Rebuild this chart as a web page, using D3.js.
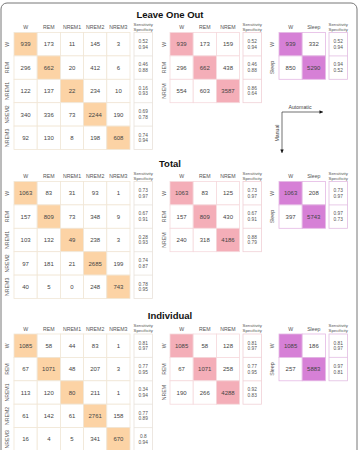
<html>
<head>
<script src="https://d3js.org/d3.v7.min.js"></script>
<style>
  body { margin: 0; background: #fff; }
  text { font-family: "Liberation Sans", Arial, sans-serif; }
</style>
</head>
<body>
<div id="chart"></div>
<script>
// class labels
const classes5 = ["W", "REM", "NREM1", "NREM2", "NREM3"];
const classes3 = ["W", "REM", "NREM"];
const classes2 = ["W", "Sleep"];
const sectionTitles = ["Leave One Out", "Total", "Individual"];

// Leave One Out
const loo5 = [[939,173,11,145,3],[296,662,20,412,6],[122,137,22,234,10],[340,336,73,2244,190],[92,130,8,198,608]];
const loo5Stats = [["0.52","0.94"],["0.46","0.88"],["0.16","0.93"],["0.69","0.78"],["0.74","0.94"]];
const loo3 = [[939,173,159],[296,662,438],[554,603,3587]];
const loo3Stats = [["0.52","0.94"],["0.46","0.88"],["0.86","0.64"]];
const loo2 = [[939,332],[850,5290]];
const loo2Stats = [["0.52","0.94"],["0.94","0.52"]];

// Total
const total5 = [[1063,83,31,93,1],[157,809,73,348,9],[103,132,49,238,3],[97,181,21,2685,199],[40,5,0,248,743]];
const total5Stats = [["0.73","0.97"],["0.67","0.91"],["0.28","0.93"],["0.74","0.87"],["0.78","0.95"]];
const total3 = [[1063,83,125],[157,809,430],[240,318,4186]];
const total3Stats = [["0.73","0.97"],["0.67","0.91"],["0.88","0.79"]];
const total2 = [[1063,208],[397,5743]];
const total2Stats = [["0.73","0.97"],["0.97","0.73"]];

// Individual
const ind5 = [[1085,58,44,83,1],[67,1071,48,207,3],[113,120,80,211,1],[61,142,61,2761,158],[16,4,5,341,670]];
const ind5Stats = [["0.81","0.97"],["0.77","0.95"],["0.34","0.94"],["0.77","0.89"],["0.8","0.94"]];
const ind3 = [[1085,58,128],[67,1071,258],[190,266,4288]];
const ind3Stats = [["0.81","0.97"],["0.77","0.95"],["0.92","0.83"]];
const ind2 = [[1085,186],[257,5883]];
const ind2Stats = [["0.81","0.97"],["0.97","0.81"]];

const sections = [
  {title: sectionTitles[0], top: 32.5, m5: loo5, s5: loo5Stats, m3: loo3, s3: loo3Stats, m2: loo2, s2: loo2Stats},
  {title: sectionTitles[1], top: 181.5, m5: total5, s5: total5Stats, m3: total3, s3: total3Stats, m2: total2, s2: total2Stats},
  {title: sectionTitles[2], top: 334, m5: ind5, s5: ind5Stats, m3: ind3, s3: ind3Stats, m2: ind2, s2: ind2Stats}
];

const W = 360, H = 450;
const cellW = 23.2, cellH = 23.4;

const svg = d3.select('#chart').append('svg')
  .attr('width', W)
  .attr('height', H);

// outer frame
svg.append('rect')
  .attr('x', 1).attr('y', 3)
  .attr('width', 356).attr('height', 470)
  .attr('rx', 6)
  .attr('fill', 'none')
  .attr('stroke', '#777')
  .attr('stroke-width', 1);

const styles = {
  five:  {x0: 14,  label: 7,   sx: 134, fill: '#fcd3a5', line: '#f1e6d6', box: '#e9e2da'},
  three: {x0: 170, label: 164, sx: 243, fill: '#f4aeb8', line: '#f5d9dd', box: '#f0d0d6'},
  two:   {x0: 279, label: 272, sx: 329, fill: '#d680d6', line: '#e4b8e4', box: '#e2bce2'}
};

function drawBlock(g, classes, matrix, stats, top, st) {
  const n = classes.length;
  const x = d3.scaleBand().domain(d3.range(n)).range([st.x0, st.x0 + n * cellW]);
  const y = d3.scaleBand().domain(d3.range(n)).range([top, top + n * cellH]);

  const cells = [];
  matrix.forEach((row, i) => row.forEach((v, j) => cells.push({i, j, v})));

  g.selectAll(null).data(cells).enter().append('rect')
    .attr('x', d => x(d.j)).attr('y', d => y(d.i))
    .attr('width', x.bandwidth()).attr('height', y.bandwidth())
    .attr('fill', d => d.i === d.j ? st.fill : '#fff')
    .attr('stroke', st.line)
    .attr('stroke-width', 0.8);

  g.selectAll(null).data(cells).enter().append('text')
    .attr('x', d => x(d.j) + x.bandwidth() / 2)
    .attr('y', d => y(d.i) + y.bandwidth() / 2)
    .attr('dy', '0.35em')
    .attr('text-anchor', 'middle')
    .attr('font-size', 6)
    .attr('fill', '#444')
    .text(d => d.v);

  // column headers
  g.selectAll(null).data(classes).enter().append('text')
    .attr('x', (d, j) => x(j) + x.bandwidth() / 2)
    .attr('y', top - 5)
    .attr('dy', '0.35em')
    .attr('text-anchor', 'middle')
    .attr('font-size', 5.2)
    .attr('fill', '#555')
    .text(d => d);

  // row labels
  g.selectAll(null).data(classes).enter().append('text')
    .attr('transform', (d, i) => `translate(${st.label},${y(i) + y.bandwidth() / 2}) rotate(-90)`)
    .attr('dy', '0.35em')
    .attr('text-anchor', 'middle')
    .attr('font-size', 5.2)
    .attr('fill', '#555')
    .text(d => d);

  // sensitivity / specificity column
  const bw = 18.5;
  g.append('rect')
    .attr('x', st.sx).attr('y', top)
    .attr('width', bw).attr('height', n * cellH)
    .attr('fill', '#fff')
    .attr('stroke', st.box)
    .attr('stroke-width', 0.8);
  g.selectAll(null).data(d3.range(1, n)).enter().append('line')
    .attr('x1', st.sx).attr('x2', st.sx + bw)
    .attr('y1', i => y(i)).attr('y2', i => y(i))
    .attr('stroke', st.box)
    .attr('stroke-width', 0.8);
  g.selectAll(null).data(["Sensitivity", "Specificity"]).enter().append('text')
    .attr('x', st.sx + bw / 2)
    .attr('y', (d, k) => top - 8.5 + k * 5)
    .attr('dy', '0.35em')
    .attr('text-anchor', 'middle')
    .attr('font-size', 4.3)
    .attr('fill', '#555')
    .text(d => d);

  const statCells = [];
  stats.forEach((s, i) => s.forEach((v, k) => statCells.push({i, k, v})));
  g.selectAll(null).data(statCells).enter().append('text')
    .attr('x', st.sx + bw / 2)
    .attr('y', d => y(d.i) + y.bandwidth() / 2 + (d.k === 0 ? -2.8 : 2.8))
    .attr('dy', '0.35em')
    .attr('text-anchor', 'middle')
    .attr('font-size', 4.8)
    .attr('fill', '#555')
    .text(d => d.v);
}

sections.forEach(sec => {
  const g = svg.append('g');
  g.append('text')
    .attr('x', 170)
    .attr('y', sec.top - 18)
    .attr('dy', '0.35em')
    .attr('text-anchor', 'middle')
    .attr('font-size', 9.5)
    .attr('font-weight', 'bold')
    .attr('fill', '#111')
    .text(sec.title);
  drawBlock(g, classes5, sec.m5, sec.s5, sec.top, styles.five);
  drawBlock(g, classes3, sec.m3, sec.s3, sec.top, styles.three);
  drawBlock(g, classes2, sec.m2, sec.s2, sec.top, styles.two);
});

// Automatic / Manual axes legend
const defs = svg.append('defs');
defs.append('marker')
  .attr('id', 'arrow')
  .attr('viewBox', '0 0 10 10')
  .attr('refX', 10).attr('refY', 5)
  .attr('markerWidth', 7).attr('markerHeight', 5)
  .attr('orient', 'auto')
  .append('path')
  .attr('d', 'M0,0 L10,5 L0,10 z')
  .attr('fill', '#111');

const ox = 282, oy = 112;
svg.append('line')
  .attr('x1', ox).attr('y1', oy).attr('x2', 323).attr('y2', oy)
  .attr('stroke', '#333').attr('stroke-width', 0.7)
  .attr('marker-end', 'url(#arrow)');
svg.append('line')
  .attr('x1', ox).attr('y1', oy).attr('x2', ox).attr('y2', 153)
  .attr('stroke', '#333').attr('stroke-width', 0.7)
  .attr('marker-end', 'url(#arrow)');
svg.append('text')
  .attr('x', 300).attr('y', 108.5)
  .attr('text-anchor', 'middle')
  .attr('font-size', 5.2)
  .attr('fill', '#444')
  .text('Automatic');
svg.append('text')
  .attr('transform', `translate(277,133) rotate(-90)`)
  .attr('dy', '0.35em')
  .attr('text-anchor', 'middle')
  .attr('font-size', 5.2)
  .attr('fill', '#444')
  .text('Manual');
</script>
</body>
</html>
